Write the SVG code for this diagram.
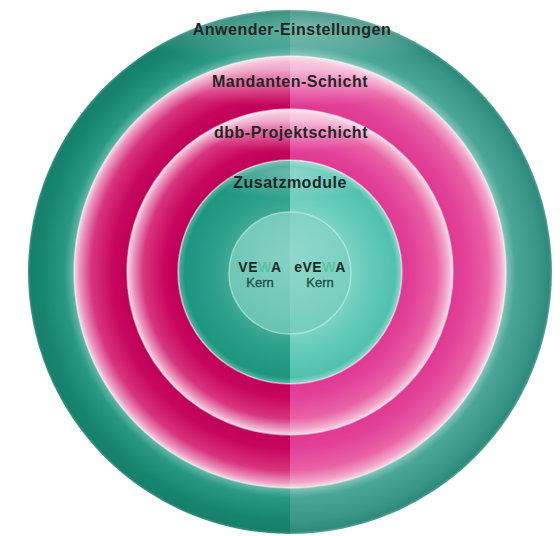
<svg xmlns="http://www.w3.org/2000/svg" width="560" height="536" viewBox="0 0 560 536">
<defs>
<clipPath id="cl"><rect x="0" y="0" width="290" height="536"/></clipPath>
<clipPath id="cr"><rect x="290" y="0" width="270" height="536"/></clipPath>
<clipPath id="c1"><circle cx="290" cy="272" r="262"/></clipPath>
<clipPath id="c2"><circle cx="290" cy="272" r="216"/></clipPath>
<clipPath id="c3"><circle cx="290" cy="272" r="163"/></clipPath>
<clipPath id="c4"><circle cx="290" cy="272" r="112"/></clipPath>
<radialGradient id="hl"><stop offset="0" stop-color="#ffffff" stop-opacity="0.6"/><stop offset="1" stop-color="#ffffff" stop-opacity="0"/></radialGradient>
<radialGradient id="gOuterL" gradientUnits="userSpaceOnUse" cx="290" cy="272" r="262">
<stop offset="0.82" stop-color="#6dbcac"/><stop offset="0.86" stop-color="#2a9984"/><stop offset="0.95" stop-color="#17846e"/><stop offset="0.99" stop-color="#17806b"/><stop offset="1" stop-color="#3f9586"/>
</radialGradient>
<radialGradient id="gOuterR" gradientUnits="userSpaceOnUse" cx="290" cy="272" r="262">
<stop offset="0.82" stop-color="#8ccabe"/><stop offset="0.86" stop-color="#4aa696"/><stop offset="0.95" stop-color="#3a9787"/><stop offset="0.99" stop-color="#2e8b7b"/><stop offset="1" stop-color="#5ea39a"/>
</radialGradient>
<radialGradient id="gP1L" gradientUnits="userSpaceOnUse" cx="290" cy="272" r="216">
<stop offset="0.75" stop-color="#bf0058"/><stop offset="0.82" stop-color="#c8065f"/><stop offset="0.92" stop-color="#d8347e"/><stop offset="0.975" stop-color="#ec98c0"/><stop offset="1" stop-color="#f9dae8"/>
</radialGradient>
<radialGradient id="gP1R" gradientUnits="userSpaceOnUse" cx="290" cy="272" r="216">
<stop offset="0.75" stop-color="#df3890"/><stop offset="0.82" stop-color="#e34298"/><stop offset="0.92" stop-color="#e962a6"/><stop offset="0.975" stop-color="#f2a6ca"/><stop offset="1" stop-color="#fadcea"/>
</radialGradient>
<radialGradient id="gP2L" gradientUnits="userSpaceOnUse" cx="290" cy="272" r="163">
<stop offset="0.687" stop-color="#bf0058"/><stop offset="0.77" stop-color="#c8065f"/><stop offset="0.9" stop-color="#d8347e"/><stop offset="0.965" stop-color="#ec98c0"/><stop offset="1" stop-color="#f9dae8"/>
</radialGradient>
<radialGradient id="gP2R" gradientUnits="userSpaceOnUse" cx="290" cy="272" r="163">
<stop offset="0.687" stop-color="#df3890"/><stop offset="0.77" stop-color="#e34298"/><stop offset="0.9" stop-color="#e962a6"/><stop offset="0.965" stop-color="#f2a6ca"/><stop offset="1" stop-color="#fadcea"/>
</radialGradient>
<radialGradient id="gInL" gradientUnits="userSpaceOnUse" cx="290" cy="272" r="112">
<stop offset="0.54" stop-color="#40aa96"/><stop offset="0.7" stop-color="#2a9f89"/><stop offset="0.94" stop-color="#1e957e"/><stop offset="0.985" stop-color="#4aad9c"/><stop offset="1" stop-color="#9cd4c8"/>
</radialGradient>
<radialGradient id="gInR" gradientUnits="userSpaceOnUse" cx="290" cy="272" r="112">
<stop offset="0.54" stop-color="#7cd4c4"/><stop offset="0.7" stop-color="#66cbba"/><stop offset="0.94" stop-color="#52c0ae"/><stop offset="0.985" stop-color="#80d2c4"/><stop offset="1" stop-color="#b8e6dc"/>
</radialGradient>
<radialGradient id="gCoreL" gradientUnits="userSpaceOnUse" cx="290" cy="255" r="80">
<stop offset="0" stop-color="#86d2c3"/><stop offset="1" stop-color="#68c3b1"/>
</radialGradient>
<radialGradient id="gCoreR" gradientUnits="userSpaceOnUse" cx="290" cy="255" r="80">
<stop offset="0" stop-color="#90d9cb"/><stop offset="1" stop-color="#74cdbc"/>
</radialGradient>
</defs>
<style>
.lbl{font-family:"Liberation Sans",Arial,sans-serif;font-weight:bold;font-size:16px;letter-spacing:0.5px;fill:#1f2624;text-anchor:middle}
.core{font-family:"Liberation Sans",Arial,sans-serif;font-weight:bold;font-size:14px;letter-spacing:0.5px;fill:#1b2a28;text-anchor:middle}
.kern{font-family:"Liberation Sans",Arial,sans-serif;font-size:13px;fill:#224a45;stroke:#224a45;stroke-width:0.3;text-anchor:middle}
.w{fill:#5cc2a6}
.edge{fill:none;stroke:#ffffff;stroke-opacity:0.45;stroke-width:1.5}
</style>
<g id="layer-anwender">
<circle cx="290" cy="272" r="262" fill="url(#gOuterL)" clip-path="url(#cl)"/>
<circle cx="290" cy="272" r="262" fill="url(#gOuterR)" clip-path="url(#cr)"/>
<ellipse cx="290" cy="28" rx="200" ry="34" fill="url(#hl)" opacity="0.5" clip-path="url(#c1)"/>
<text class="lbl" x="292" y="35">Anwender-Einstellungen</text>
</g>
<g id="layer-mandanten">
<circle cx="290" cy="272" r="216" fill="url(#gP1L)" clip-path="url(#cl)"/>
<circle cx="290" cy="272" r="216" fill="url(#gP1R)" clip-path="url(#cr)"/>
<ellipse cx="290" cy="70" rx="190" ry="36" fill="url(#hl)" opacity="0.85" clip-path="url(#c2)"/>
<circle class="edge" cx="290" cy="272" r="216"/>
<text class="lbl" x="290" y="87">Mandanten-Schicht</text>
</g>
<g id="layer-dbb">
<circle cx="290" cy="272" r="163" fill="url(#gP2L)" clip-path="url(#cl)"/>
<circle cx="290" cy="272" r="163" fill="url(#gP2R)" clip-path="url(#cr)"/>
<ellipse cx="290" cy="120" rx="140" ry="32" fill="url(#hl)" opacity="0.85" clip-path="url(#c3)"/>
<circle class="edge" cx="290" cy="272" r="163"/>
<text class="lbl" x="291" y="138">dbb-Projektschicht</text>
</g>
<g id="layer-zusatz">
<circle cx="290" cy="272" r="112" fill="url(#gInL)" clip-path="url(#cl)"/>
<circle cx="290" cy="272" r="112" fill="url(#gInR)" clip-path="url(#cr)"/>
<ellipse cx="290" cy="172" rx="95" ry="28" fill="url(#hl)" opacity="0.55" clip-path="url(#c4)"/>
<circle class="edge" cx="290" cy="272" r="112"/>
<text class="lbl" x="290" y="188">Zusatzmodule</text>
</g>
<g id="layer-kern">
<circle cx="290" cy="273" r="61" fill="url(#gCoreL)" clip-path="url(#cl)"/>
<circle cx="290" cy="273" r="61" fill="url(#gCoreR)" clip-path="url(#cr)"/>
<circle cx="290" cy="273" r="61" fill="none" stroke="#c8eee6" stroke-opacity="0.6" stroke-width="1.5"/>
<text class="core" x="260" y="272">VE<tspan class="w">W</tspan>A</text>
<text class="core" x="320" y="272">eVE<tspan class="w">W</tspan>A</text>
<text class="kern" x="260" y="287">Kern</text>
<text class="kern" x="320" y="287">Kern</text>
</g>
</svg>
